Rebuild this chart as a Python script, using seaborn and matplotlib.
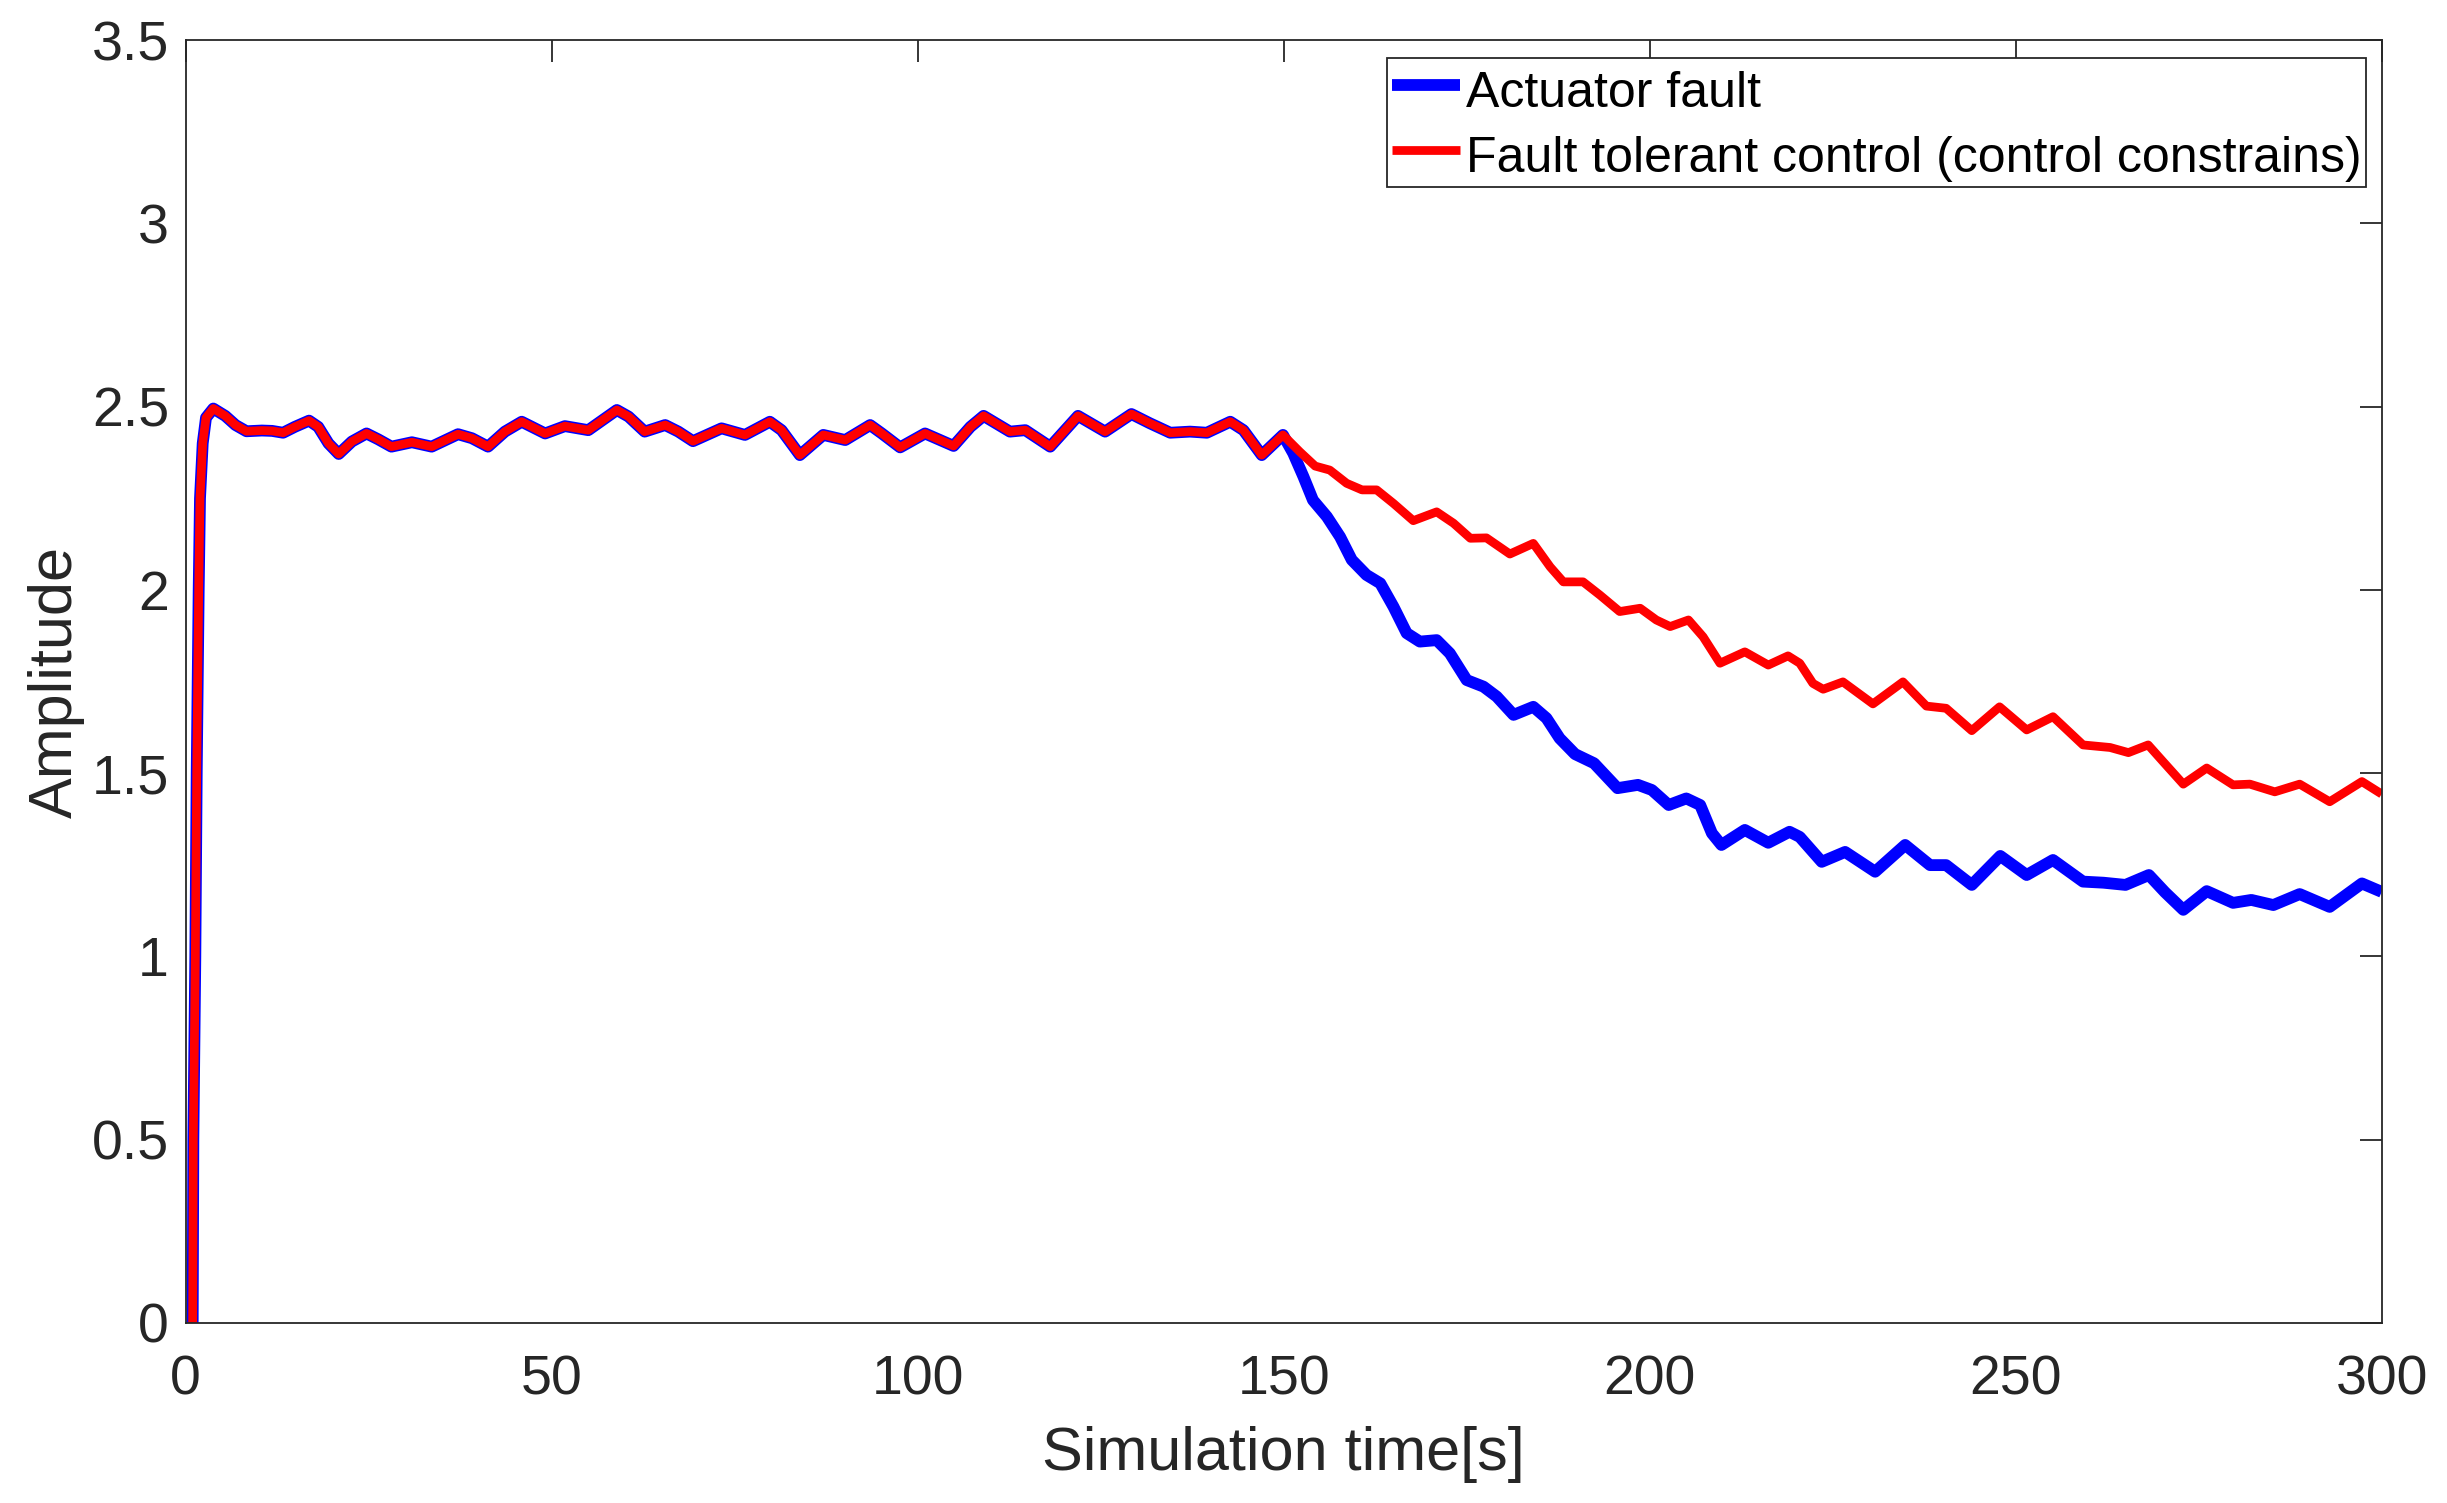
import matplotlib
matplotlib.use("Agg")
import matplotlib.pyplot as plt
import seaborn as sns
import pandas as pd

# ---- data ----
t_common = [0.95, 1.04, 1.31, 1.5, 1.77, 1.95, 2.32, 2.77, 3.77, 5.4, 6.8, 8.3, 10.4, 11.8, 13.3,
            14.9, 16.85, 18.1, 19.5, 20.9, 22.7, 24.7, 26.3, 28.1, 30.9, 33.6, 37.2, 39.1, 41.3,
            43.6, 45.9, 49.1, 51.8, 55.0, 58.9, 60.5, 62.7, 65.5, 67.3, 69.3, 73.2, 76.4, 79.8,
            81.4, 83.9, 87.1, 90.1, 93.5, 95.1, 97.6, 101.0, 104.9, 107.2, 109.0, 112.6, 114.7,
            118.1, 121.9, 125.6, 129.2, 131.7, 134.5, 137.2, 139.5, 142.7, 144.5, 147.0, 149.9]
y_common = [0.0, 0.5, 1.0, 1.5, 2.0, 2.25, 2.40, 2.47, 2.495, 2.475, 2.45, 2.433, 2.435, 2.434, 2.429,
            2.445, 2.462, 2.445, 2.40, 2.371, 2.405, 2.427, 2.411, 2.391, 2.403, 2.391, 2.425, 2.414, 2.391,
            2.432, 2.459, 2.427, 2.447, 2.436, 2.491, 2.473, 2.432, 2.450, 2.432, 2.406, 2.441, 2.423, 2.459,
            2.436, 2.368, 2.423, 2.409, 2.450, 2.427, 2.389, 2.427, 2.393, 2.445, 2.475, 2.432, 2.436,
            2.391, 2.475, 2.432, 2.480, 2.455, 2.429, 2.432, 2.429, 2.459, 2.436, 2.368, 2.423]

t_fault_tail = [151.3, 152.7, 154.0, 155.9, 157.7, 159.3, 161.3, 163.2, 165.0, 166.8, 168.6, 170.9,
                172.7, 175.0, 177.3, 179.1, 181.4, 184.1, 185.9, 187.7, 189.8, 192.4, 195.6, 198.4,
                200.3, 202.6, 205.0, 206.9, 208.5, 209.8, 213.0, 216.2, 219.1, 220.5, 223.5, 226.7,
                230.8, 234.9, 238.3, 240.5, 244.0, 247.9, 251.5, 255.1, 259.2, 262.0, 265.0, 268.2,
                270.4, 272.9, 276.1, 279.7, 282.2, 285.2, 288.8, 292.9, 297.3, 300.0]
y_fault_tail = [2.373, 2.309, 2.245, 2.200, 2.145, 2.082, 2.041, 2.018, 1.954, 1.882, 1.859, 1.863,
                1.827, 1.754, 1.736, 1.709, 1.659, 1.681, 1.650, 1.595, 1.552, 1.527, 1.459, 1.468,
                1.454, 1.413, 1.431, 1.413, 1.336, 1.304, 1.345, 1.310, 1.340, 1.326, 1.258, 1.285,
                1.231, 1.304, 1.249, 1.249, 1.195, 1.274, 1.222, 1.263, 1.204, 1.201, 1.195, 1.222,
                1.175, 1.127, 1.178, 1.146, 1.154, 1.140, 1.170, 1.135, 1.199, 1.176]

t_ftc_tail = [152.2, 154.3, 156.3, 158.6, 160.7, 162.7, 165.0, 167.7, 170.9, 173.2, 175.5, 177.7,
              180.9, 184.1, 186.4, 188.2, 190.9, 193.2, 195.9, 198.7, 200.9, 202.8, 205.3, 207.3,
              209.6, 213.0, 216.2, 218.9, 220.5, 222.3, 223.7, 226.4, 230.5, 234.6, 237.8, 240.5,
              244.0, 247.8, 251.5, 255.1, 259.2, 262.9, 265.4, 268.1, 270.2, 272.9, 276.1, 279.7,
              282.0, 285.4, 288.8, 292.9, 297.3, 300.0]
y_ftc_tail = [2.377, 2.338, 2.327, 2.291, 2.273, 2.273, 2.236, 2.189, 2.213, 2.182, 2.141, 2.142,
              2.098, 2.127, 2.063, 2.022, 2.022, 1.986, 1.941, 1.950, 1.918, 1.900, 1.918, 1.872,
              1.800, 1.831, 1.795, 1.820, 1.800, 1.745, 1.729, 1.749, 1.689, 1.749, 1.683, 1.677,
              1.616, 1.681, 1.618, 1.654, 1.577, 1.570, 1.556, 1.577, 1.530, 1.470, 1.514, 1.468,
              1.470, 1.449, 1.470, 1.422, 1.477, 1.443]

labels = ["Actuator fault", "Fault tolerant control (control constrains)"]
x_ticks = [0, 50, 100, 150, 200, 250, 300]
y_ticks = [0, 0.5, 1, 1.5, 2, 2.5, 3, 3.5]
y_tick_labels = ["0", "0.5", "1", "1.5", "2", "2.5", "3", "3.5"]

df_fault = pd.DataFrame({"t": t_common + t_fault_tail, "y": y_common + y_fault_tail})
df_ftc = pd.DataFrame({"t": t_common + t_ftc_tail, "y": y_common + y_ftc_tail})

# ---- style ----
sns.set_style("white")
plt.rcParams["font.family"] = ["Liberation Sans", "DejaVu Sans"]
dark = "#262626"

fig = plt.figure(figsize=(24.47, 15.03), dpi=100)
ax = fig.add_axes([0.0759, 0.1199, 0.8974, 0.8533])

sns.lineplot(data=df_fault, x="t", y="y", ax=ax, color="#0000ff", linewidth=8.5,
             sort=False, estimator=None, label=labels[0], solid_joinstyle="round",
             solid_capstyle="butt")
sns.lineplot(data=df_ftc, x="t", y="y", ax=ax, color="#ff0000", linewidth=6.3,
             sort=False, estimator=None, label=labels[1], solid_joinstyle="round",
             solid_capstyle="butt")

ax.set_xlim(0, 300)
ax.set_ylim(0, 3.5)
ax.set_xticks(x_ticks)
ax.set_xticklabels([str(v) for v in x_ticks])
ax.set_yticks(y_ticks)
ax.set_yticklabels(y_tick_labels)

ax.tick_params(axis="both", which="major", direction="in", length=16, width=1.3,
               color=dark, labelcolor=dark, labelsize=40, top=True, right=True)
ax.tick_params(axis="x", pad=23)
ax.tick_params(axis="y", pad=12)
for s in ax.spines.values():
    s.set_visible(True)
    s.set_color(dark)
    s.set_linewidth(1.3)

ax.set_xlabel("Simulation time[s]", fontsize=44, color=dark, labelpad=14)
ax.set_ylabel("Amplitude", fontsize=44, color=dark, labelpad=5)

leg = ax.legend(loc="upper right", bbox_to_anchor=(0.993, 0.986), fontsize=36,
                frameon=True, fancybox=False, shadow=False, framealpha=1,
                handlelength=1.35, handletextpad=0.12, borderpad=0.1,
                handleheight=1.3, labelspacing=0.2, borderaxespad=0.0)
leg.get_frame().set_edgecolor(dark)
leg.get_frame().set_linewidth(1.3)
for line in leg.get_lines():
    line.set_solid_capstyle("butt")
for txt in leg.get_texts():
    txt.set_color("black")

fig.savefig("out.png", dpi=100, facecolor="white")
